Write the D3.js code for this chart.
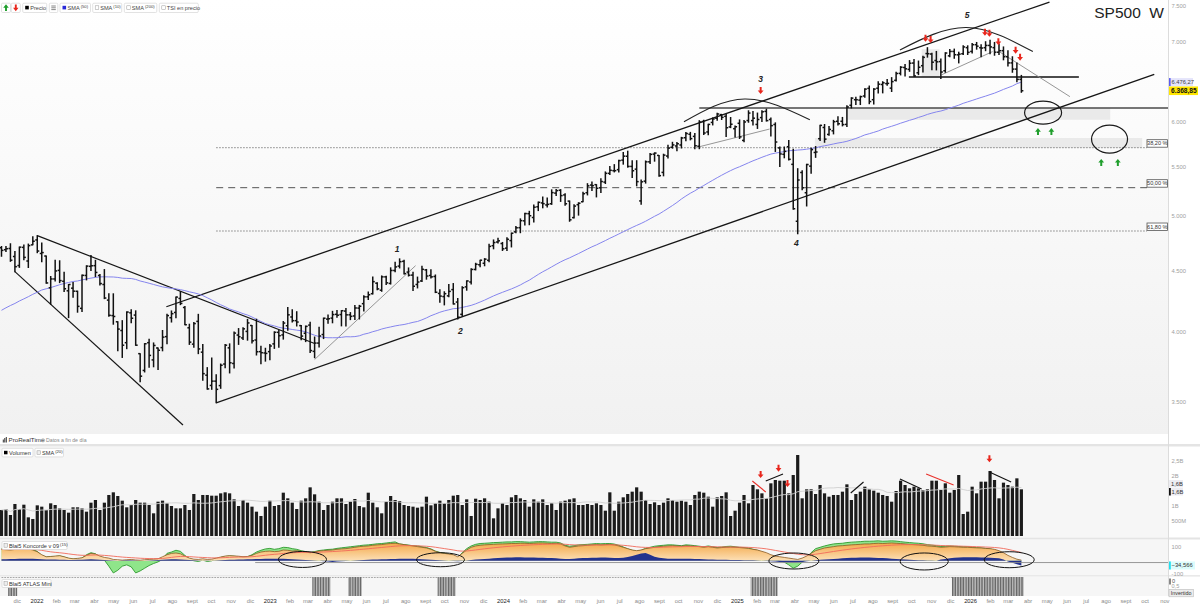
<!DOCTYPE html>
<html lang="es">
<head>
<meta charset="utf-8">
<title>SP500 W</title>
<script src="https://cdn.jsdelivr.net/npm/d3@7/dist/d3.min.js"></script>
<style>
html,body{margin:0;padding:0;background:#ffffff;overflow:hidden;}
svg{display:block;font-family:"Liberation Sans",Arial,Helvetica,sans-serif;}
</style>
</head>
<body>
<svg id="chart" width="1200" height="605"></svg>
<script>
// ================= DATA =================
const firstWeek = "2021-11-08";
const lastWeek = "2026-03-23";
// weekly [open, high, low, close]
const ohlc2021 = [
[4707,4718,4630,4683],[4689,4718,4672,4698],[4700,4743,4585,4595],[4628,4672,4495,4538],
[4548,4713,4532,4712],[4710,4731,4600,4620],[4588,4740,4531,4726],[4733,4808,4733,4766]];
const ohlc2022 = [
[4778,4818,4662,4677],[4655,4749,4582,4663],[4632,4632,4395,4398],[4357,4453,4222,4432],
[4432,4595,4414,4501],[4506,4590,4401,4418],[4412,4490,4327,4349],[4332,4385,4114,4385],
[4354,4402,4279,4329],[4328,4329,4157,4204],[4188,4466,4162,4463],[4462,4546,4424,4543],
[4541,4637,4505,4546],[4547,4594,4452,4488],[4462,4471,4381,4393],[4385,4513,4267,4272],
[4255,4308,4124,4132],[4130,4307,4062,4123],[4081,4081,3859,4024],[4013,4090,3810,3901],
[3920,4160,3875,4158],[4152,4177,4073,4109],[4134,4168,3900,3901],[3838,3838,3636,3675],
[3716,3913,3705,3912],[3920,3946,3738,3825],[3792,3918,3742,3899],[3880,3880,3722,3863],
[3883,4013,3859,3962],[3966,4140,3911,4130],[4113,4167,4079,4145],[4155,4280,4112,4280],
[4269,4325,4218,4228],[4195,4203,4057,4058],[4034,4062,3907,3924],[3909,4076,3886,4067],
[4084,4140,3838,3873],[3849,3907,3647,3693],[3682,3736,3584,3586],[3610,3806,3583,3640],
[3640,3685,3491,3583],[3609,3762,3590,3753],[3762,3906,3735,3901],[3881,3911,3698,3771],
[3766,4001,3733,3993],[3978,4028,3907,3965],[3956,4034,3944,4026],[4006,4100,3939,4072],
[4052,4052,3918,3934],[3940,4101,3828,3852],[3853,3894,3764,3845],[3843,3878,3783,3840]];
const ohlc2023 = [
[3853,3906,3794,3895],[3911,4003,3877,3999],[3999,4015,3885,3973],[3979,4083,3947,4071],
[4050,4195,4015,4136],[4119,4176,4079,4090],[4090,4161,4048,4079],[4051,4051,3943,3970],
[3992,4048,3928,4045],[4055,4078,3847,3861],[3855,3963,3808,3917],[3917,4039,3888,3971],
[3982,4110,3951,4109],[4102,4134,4069,4105],[4110,4164,4073,4138],[4140,4170,4116,4133],
[4138,4170,4049,4169],[4166,4187,4048,4136],[4136,4154,4098,4124],[4127,4212,4099,4191],
[4190,4212,4103,4205],[4226,4290,4167,4282],[4282,4322,4260,4299],[4308,4448,4306,4409],
[4396,4400,4341,4348],[4337,4458,4328,4450],[4450,4456,4385,4399],[4394,4528,4389,4505],
[4505,4578,4495,4536],[4543,4607,4527,4582],[4585,4594,4474,4478],[4491,4527,4457,4464],
[4465,4490,4335,4370],[4385,4448,4356,4406],[4415,4541,4411,4515],[4510,4514,4430,4457],
[4462,4511,4440,4450],[4453,4466,4317,4320],[4310,4341,4238,4288],[4284,4324,4216,4308],
[4290,4385,4283,4327],[4342,4393,4223,4224],[4239,4268,4103,4117],[4140,4366,4127,4358],
[4365,4416,4337,4415],[4406,4521,4390,4514],[4514,4568,4510,4559],[4555,4595,4537,4595],
[4568,4609,4546,4604],[4594,4738,4582,4719],[4725,4778,4697,4754],[4759,4793,4751,4770]];
const ohlc2024 = [
[4745,4755,4682,4697],[4703,4798,4682,4784],[4772,4842,4714,4840],[4853,4903,4845,4891],
[4892,4976,4845,4959],[4957,5030,4918,5027],[5026,5049,4920,5006],[4989,5111,4947,5089],
[5093,5140,5056,5137],[5131,5190,5083,5124],[5111,5179,5092,5117],[5123,5262,5117,5234],
[5229,5265,5204,5254],[5258,5264,5146,5204],[5211,5222,5107,5123],[5149,5150,4953,4967],
[4988,5114,4985,5100],[5114,5133,5012,5128],[5143,5239,5143,5223],[5233,5325,5211,5303],
[5311,5342,5256,5305],[5315,5315,5191,5278],[5283,5375,5234,5347],[5341,5447,5327,5432],
[5432,5505,5420,5464],[5460,5524,5447,5460],[5471,5570,5446,5567],[5572,5655,5529,5615],
[5614,5669,5497,5505],[5505,5566,5390,5459],[5476,5566,5303,5346],[5151,5364,5119,5344],
[5351,5563,5331,5554],[5554,5643,5536,5634],[5637,5651,5561,5648],[5623,5623,5403,5408],
[5442,5636,5406,5626],[5616,5733,5596,5703],[5712,5767,5702,5738],[5726,5765,5675,5751],
[5737,5822,5704,5815],[5818,5878,5784,5865],[5857,5878,5794,5808],[5833,5866,5696,5729],
[5723,6012,5696,5996],[6003,6018,5853,5871],[5883,5972,5850,5969],[5992,6044,5963,6032],
[6040,6099,6016,6090],[6083,6085,6026,6051],[6063,6085,5832,5931],[5940,6049,5932,5971],
[5920,5950,5825,5942]];
const ohlc2025 = [
[5982,6021,5809,5827],[5788,6014,5773,5997],[6014,6128,5994,6101],[6013,6120,5962,6041],
[5969,6101,5923,6026],[6048,6128,6003,6115],[6121,6147,6008,6013],[6026,6043,5837,5955],
[5968,5987,5666,5770],[5705,5714,5505,5639],[5635,5715,5597,5667],[5718,5786,5573,5581],
[5527,5691,5069,5074],[4953,5481,4835,5363],[5441,5459,5262,5283],[5233,5528,5101,5525],
[5508,5700,5434,5686],[5655,5720,5602,5660],[5807,5959,5786,5958],[5934,5968,5767,5802],
[5855,5944,5845,5912],[5896,6016,5861,6000],[6005,6059,5963,5977],[6005,6050,5952,5967],
[5969,6187,5944,6173],[6193,6284,6161,6279],[6260,6290,6201,6260],[6255,6303,6202,6297],
[6305,6395,6289,6389],[6398,6427,6212,6238],[6260,6395,6208,6389],[6400,6481,6340,6450],
[6446,6481,6343,6467],[6457,6508,6437,6460],[6401,6532,6360,6482],[6498,6600,6489,6584],
[6586,6672,6566,6664],[6661,6699,6551,6644],[6637,6750,6612,6716],[6718,6764,6550,6553],
[6593,6744,6570,6664],[6684,6808,6602,6792],[6842,6920,6795,6840],[6836,6845,6631,6729],
[6751,6870,6630,6734],[6737,6771,6521,6603],[6619,6853,6600,6849],[6812,6895,6800,6870],
[6870,6901,6780,6827],[6825,6860,6720,6834],[6840,6945,6830,6930],[6920,6945,6830,6858]];
const ohlc2026 = [
[6870,6975,6850,6960],[6960,6990,6900,6940],[6920,6960,6800,6915],[6920,7000,6880,6950],
[6950,7020,6840,6930],[6920,6990,6820,6860],[6860,6970,6830,6880],[6880,6930,6760,6800],
[6800,6880,6680,6720],[6720,6800,6600,6640],[6640,6720,6480,6510],[6510,6560,6350,6368.85]];
// weekly closes before the first drawn bar (for the SMA 50)
const preCloses = [3699,3663,3709,3703,3756,3825,3768,3841,3714,3887,3934,3907,3811,3842,3943,3913,3975,4020,
4129,4185,4180,4181,4233,4174,4156,4204,4230,4247,4166,4281,4352,4370,4327,4412,4395,4437,4468,4442,4509,4535,
4459,4433,4455,4357,4391,4471,4545,4605,4697];
const smaPeriod = 50;
const smaLastValue = 6476.27;

// weekly volume (millions)
const volumeA = [867,889,700,1067,900,1044,622,567,1022,978,867,1089,1033,922,867,778,956,956,922,811,
1111,1200,867,1111,1367,1456,1333,1178,956,1033,1200,1111,1111,1033,756,1144,1178,1089,1000,922,
922,1033,867,1400,1200,1367,1367,1344,1344,1422,1456,1422,1222,1000,1200,1111,978,811,667,978,
1178,1000,1033,1444,1256,1111,900,1178,1256,1622,1389,1144,867,1033,1144,1256,1256,1067,1144,1233,
1000,956,1444,1111,956,756,1144,1333,1200];
const volumeB = [1167,1033,1000,978,944,978,1311,1022,1089,1178,1089,1200,1344,1367,1033,1222,667,1244,1200,1256,
1144,589,922,1089,1033,1289,1367,1256,1200,978,1222,1144,1222,1033,1089,867,1144,1178,1222,1256,
1033,1033,1067,1033,1089,1033,844,1456,844,1144,1289,1400,1478,1622,1478,1200,1067,1122,1033,1111,
1256,1200,1144,1178,1144,1033,1367,1478,1444,1311,978,1289,1333,1456,667,844,1111,1367,1089,1700,
1556,1422,1256,1756,1867,1844,1844,1422,2033,2700,1256,1556,1556,1400,1700,1422,1311,1367,1367,1478,
1722,1200,1400,1478,1644,1556,1511,1444,1367,1333,1144,1500,1844,1700,1589,1644,1589,1533,1556,1844,
1844,1533,1756,1444,1533,2033,733,811,1644,1422,1811,1811,2167,1867,1256,1778,1700,1644,1922,1556];
const volSmaPeriod = 20;
const volTicks = [500,1000,2000,2500];
const volTickLabels = ["500M","1B","2B","2,5B"];

// Koncorde components, one value per week
const koncordeMarron = [85,82,80,84,86,85,88,80,67,45,30,32,35,38,30,20,15,18,22,40,55,50,35,25,20,
10,8,5,8,10,6,4,8,10,12,15,30,45,55,58,52,35,20,12,10,15,10,12,20,28,35,38,36,34,30,32,
40,55,65,70,72,68,70,80,78,72,75,70,65,60,65,72,75,78,
80,85,88,90,95,100,105,108,110,115,118,120,125,128,130,125,120,115,110,105,100,95,
85,70,60,55,50,45,30,55,80,100,110,
115,118,120,122,124,125,126,128,128,130,130,128,130,132,132,130,128,130,125,110,
100,105,110,112,115,118,120,118,120,122,118,110,100,90,80,75,80,90,95,
100,105,108,110,112,110,108,112,110,108,105,100,105,100,95,98,100,102,100,98,95,92,85,80,70,60,
45,35,30,25,20,15,10,20,35,55,75,85,95,100,105,110,112,
115,118,120,122,125,125,128,130,128,130,132,130,128,125,122,120,118,115,110,108,105,
100,102,105,104,102,100,100,98,96,95,92,90,85,75,60,40,25,12,5];
const koncordeVerde = [90,88,86,88,92,90,92,82,70,40,28,30,32,36,28,18,12,15,20,45,60,52,30,
5,-40,-90,-70,-40,-30,-45,-90,-75,-55,-35,-20,-8,10,55,65,78,70,40,15,0,-5,5,-5,0,
15,25,32,36,34,30,28,30,45,65,78,88,92,85,90,100,98,90,85,75,68,62,68,76,80,84,
86,92,96,100,104,108,112,116,118,122,126,128,132,136,140,125,120,116,112,110,104,98,
88,72,62,56,48,40,20,60,90,110,122,
128,130,132,135,136,138,140,140,142,142,140,138,140,142,142,140,138,138,132,115,
108,112,118,120,122,125,128,126,128,128,124,115,102,88,78,70,78,92,100,
108,112,115,118,118,115,112,118,116,112,108,104,110,104,98,102,106,108,104,100,98,94,85,78,62,45,
25,10,0,-10,-30,-55,-40,-10,20,60,90,100,110,118,125,128,130,
135,138,140,142,145,145,146,148,145,146,148,146,142,138,135,132,130,126,120,116,112,
106,108,110,108,106,104,104,100,98,96,92,88,80,68,52,30,15,5,-2];
const koncordeAzul = [12,12,14,14,15,15,16,16,14,12,10,10,10,8,8,6,6,8,8,10,12,10,8,
6,4,2,0,2,4,4,2,0,0,2,4,6,8,10,12,12,10,8,6,4,2,0,-2,0,
2,4,6,8,8,10,10,12,12,14,14,15,15,16,16,15,14,12,10,8,6,4,2,0,-4,-6,-8,-6,-4,-2,0,2,4,6,8,10,10,12,12,14,14,
15,16,16,15,14,12,10,8,6,4,2,0,-2,-4,-2,2,6,10,
12,14,16,18,20,22,24,25,26,26,25,24,24,22,22,20,20,18,16,14,14,16,18,20,20,22,22,24,24,22,20,20,22,28,35,45,
55,58,45,
30,22,18,16,15,15,16,16,15,14,14,12,10,10,8,8,8,6,6,6,5,4,4,2,0,-2,
-4,-6,-8,-10,-12,-14,-12,-8,-4,0,4,
8,10,12,14,16,18,20,22,22,24,24,24,22,20,20,18,16,14,12,10,8,6,4,4,2,2,0,
10,14,18,22,24,26,26,26,26,24,24,22,20,18,10,-5,-15,-25,-34.566];
const koncordePeriod = 15;

// ATLAS Mini signal weeks [from, to, level]
const atlasRanges = [["2021-11-22","2021-11-29",0.5],["2023-03-13","2023-04-03",1],["2023-05-08","2023-05-22",1],
["2023-09-25","2023-10-16",1],["2025-01-27","2025-03-03",1],["2025-12-08","2026-03-23",1]];

// axis labels
const priceTicks = [3500,4000,4500,5000,5500,6000,7000,7500];
const monthNames = ["ene","feb","mar","abr","may","jun","jul","ago","sept","oct","nov","dic"];

// drawn analysis (date, price)
const channelLines = [[["2022-07-24",4201],["2026-05-06",7556]],[["2022-10-10",3491],["2026-10-17",6574]]];
const wedgeLines = [[["2022-01-03",4818],["2023-03-13",3914]],[["2021-11-29",4495],["2022-08-19",3345]]];
const thinLines = [[["2023-03-13",3795],["2023-08-18",4547]],[["2024-11-02",5714],["2025-02-22",5916]],
[["2025-11-18",6567],["2026-02-06",6868]],[["2026-02-17",6864],["2026-06-07",6297]]];
const levelLines = [{from:"2024-11-04",to:"2026-11-08",price:6160,color:"#4a4a4a",w:1.4},
{from:"2025-09-28",to:"2026-06-21",price:6540,color:"#111",w:1.3}];
const arcs = [[["2024-10-11",5999],["2025-01-14",6269],["2025-04-26",6023]],
[["2025-09-14",6890],["2025-12-27",7194],["2026-04-10",6868]]];
const zones = [{from:"2025-06-23",to:"2026-08-09",lo:6023,hi:6160},{from:"2025-05-04",to:"2026-09-28",lo:5704,hi:5814},
{from:"2025-10-18",to:"2025-11-15",lo:6540,hi:6900}];
const fibLow = 3491, fibHigh = 7077, fibStart = "2022-10-10";
const fibLevels = [0.382,0.5,0.618];
const fibLabels = ["38,20 %","50,00 %","61,80 %"];
const priceEllipses = [{d:"2026-04-26",p:6105,rx:18.5,ry:11.5},{d:"2026-08-08",p:5803,rx:18,ry:14}];
const upArrows = [["2026-04-18",5927],["2026-05-09",5927],["2026-07-26",5584],["2026-08-21",5584]];
const downArrows = [["2025-02-08",6328],["2025-10-24",6999],["2025-11-01",6981],["2026-01-25",7080],
["2026-02-01",7066],["2026-02-15",6954],["2026-03-14",6841],["2026-03-21",6749]];
const waveLabels = [["1","2023-07-20",4695],["2","2023-10-27",4009],["3","2025-02-08",6514],["4","2025-04-05",4750],["5","2025-12-28",7366]];
const volLines = [{a:["2025-01-26",1833],b:["2025-02-16",1467],c:"#e8302a"},{a:["2025-02-16",1833],b:["2025-03-15",2067],c:"#111"},
{a:["2025-06-29",1433],b:["2025-07-19",1800],c:"#111"},{a:["2025-09-14",1900],b:["2025-10-18",1567],c:"#111"},
{a:["2025-10-25",2067],b:["2025-12-07",1700],c:"#e8302a"},{a:["2026-02-01",2133],b:["2026-03-07",1800],c:"#111"}];
const volArrows = [["2025-02-08",1933],["2025-03-08",2143],["2025-03-22",1633],["2026-02-01",2456]];
const koncordeEllipses = [{d:"2023-02-22",v:10,rx:24,ry:8},{d:"2023-09-26",v:8,rx:24,ry:7},{d:"2025-04-01",v:-1.5,rx:25,ry:8},
{d:"2025-10-22",v:-5,rx:24,ry:8.5},{d:"2026-03-04",v:8,rx:25,ry:8}];

// ================= SETUP =================
const svg = d3.select("#chart");
const plotR = 1168;
const P = {top:0, bottom:434}, V = {top:447, bottom:537}, K = {top:540, bottom:575}, A = {top:577, bottom:596};
const parse = d3.timeParse("%Y-%m-%d");
const weeks = d3.timeMonday.range(parse(firstWeek), d3.timeDay.offset(parse(lastWeek), 1));
const ohlc = [].concat(ohlc2021, ohlc2022, ohlc2023, ohlc2024, ohlc2025, ohlc2026);
const volumes = volumeA.concat(volumeB);
const n = Math.min(weeks.length, ohlc.length);
const bars = d3.range(n).map(i => ({d:weeks[i], o:ohlc[i][0], h:ohlc[i][1], l:ohlc[i][2], c:ohlc[i][3],
  vol: volumes[i] || 0, km: koncordeMarron[i] ?? 0, kv: koncordeVerde[i] ?? 0, ka: koncordeAzul[i] ?? 0}));

const x = d3.scaleTime().domain([parse("2022-01-01"), parse("2026-01-01")]).range([36, 969.6]);
const y = d3.scaleLog().domain([3500, 7500]).range([401.5, 5.9]);
const vY = d3.scaleLinear().domain([0, 2500]).range([536, 461]);
const kY = d3.scaleLinear().domain([-100, 100]).range([574.3, 547.3]);
const loc = d3.formatLocale({decimal:",", thousands:".", grouping:[3], currency:["","€"]});
const fmt0 = loc.format(",.0f"), fmt2 = loc.format(",.2f"), fmt3 = loc.format(",.3f");
const px = p => [x(parse(p[0])), y(p[1])];

// SMA 50
const allCloses = preCloses.concat(bars.map(b => b.c));
bars.forEach((b, i) => { const j = i + preCloses.length; b.sma = d3.mean(allCloses.slice(Math.max(0, j - smaPeriod + 1), j + 1)); });
// Volume SMA 20
bars.forEach((b, i) => { b.vsma = d3.mean(bars.slice(Math.max(0, i - volSmaPeriod + 1), i + 1), d => d.vol); });
// Koncorde media (EMA of marron)
{ const a = 2 / (koncordePeriod + 1); let e = bars[0].km; bars.forEach(b => { e = a * b.km + (1 - a) * e; b.kmed = e; }); }

// ================= DEFS =================
const defs = svg.append("defs");
const gp = defs.append("linearGradient").attr("id","bgPrice").attr("x1",0).attr("y1",0).attr("x2",0).attr("y2",1);
gp.append("stop").attr("offset","0%").attr("stop-color","#ffffff");
gp.append("stop").attr("offset","100%").attr("stop-color","#f1f1f1");
const go = defs.append("linearGradient").attr("id","gOrange").attr("gradientUnits","userSpaceOnUse")
  .attr("x1",0).attr("y1",541).attr("x2",0).attr("y2",562);
go.append("stop").attr("offset","0%").attr("stop-color","#f2a23c");
go.append("stop").attr("offset","100%").attr("stop-color","#fde4bf");
const pat = defs.append("pattern").attr("id","stripes").attr("width",1.6).attr("height",4).attr("patternUnits","userSpaceOnUse");
pat.append("rect").attr("width",1.6).attr("height",4).attr("fill","#cfcfcf");
pat.append("rect").attr("width",0.9).attr("height",4).attr("fill","#5e5e5e");
[["clipP",P],["clipV",V],["clipK",K],["clipA",A]].forEach(([id, r]) =>
  defs.append("clipPath").attr("id",id).append("rect").attr("x",0).attr("y",r.top).attr("width",plotR).attr("height",r.bottom - r.top));

// ================= BACKGROUNDS =================
svg.append("rect").attr("width",1200).attr("height",605).attr("fill","#ffffff");
svg.append("rect").attr("x",0).attr("y",P.top).attr("width",plotR).attr("height",P.bottom - P.top).attr("fill","url(#bgPrice)");
[V, K, A].forEach(r => svg.append("rect").attr("x",0).attr("y",r.top).attr("width",plotR).attr("height",r.bottom - r.top).attr("fill","#f6f6f6"));
svg.append("rect").attr("x",0).attr("y",444).attr("width",1200).attr("height",2.5).attr("fill","#e4e4e4");
svg.append("rect").attr("x",0).attr("y",537.5).attr("width",1200).attr("height",2).attr("fill","#e4e4e4");
svg.append("rect").attr("x",0).attr("y",575.2).attr("width",1200).attr("height",1.3).attr("fill","#e4e4e4");
svg.append("line").attr("x1",plotR+0.5).attr("x2",plotR+0.5).attr("y1",0).attr("y2",596).attr("stroke","#dcdcdc");

// ================= PRICE PANEL =================
const pg = svg.append("g").attr("clip-path","url(#clipP)");
pg.selectAll("rect.zone").data(zones).join("rect").attr("class","zone")
  .attr("x", d => x(parse(d.from))).attr("width", d => x(parse(d.to)) - x(parse(d.from)))
  .attr("y", d => y(d.hi)).attr("height", d => y(d.lo) - y(d.hi)).attr("fill","#e6e6e6").attr("opacity",0.85);

const fibPrices = fibLevels.map(f => fibHigh - f * (fibHigh - fibLow));
pg.selectAll("line.fib").data(fibPrices).join("line").attr("class","fib")
  .attr("x1", x(parse(fibStart))).attr("x2", 1147).attr("y1", d => y(d)).attr("y2", d => y(d))
  .attr("stroke", (d,i) => i === 1 ? "#555" : "#777").attr("stroke-width", (d,i) => i === 1 ? 1 : 0.9)
  .attr("stroke-dasharray", (d,i) => i === 1 ? "7,5" : "1.5,1.5");

pg.selectAll("line.level").data(levelLines).join("line").attr("class","level")
  .attr("x1", d => x(parse(d.from))).attr("x2", d => x(parse(d.to))).attr("y1", d => y(d.price)).attr("y2", d => y(d.price))
  .attr("stroke", d => d.color).attr("stroke-width", d => d.w);

const segLine = (g, data, stroke, w) => g.selectAll(null).data(data).join("line")
  .attr("x1", d => px(d[0])[0]).attr("y1", d => px(d[0])[1]).attr("x2", d => px(d[1])[0]).attr("y2", d => px(d[1])[1])
  .attr("stroke", stroke).attr("stroke-width", w);
segLine(pg, channelLines, "#161616", 1.3);
segLine(pg, wedgeLines, "#161616", 1.2);
segLine(pg, thinLines, "#8a8a8a", 0.9);

const arcLine = d3.line().curve(d3.curveNatural).x(p => px(p)[0]).y(p => px(p)[1]);
pg.selectAll("path.arc").data(arcs).join("path").attr("class","arc").attr("d", arcLine)
  .attr("fill","none").attr("stroke","#222").attr("stroke-width",1.1);

pg.append("path").datum(bars).attr("fill","none").attr("stroke","#8585ee").attr("stroke-width",1)
  .attr("d", d3.line().x(b => x(b.d)).y(b => y(b.sma)));

const bg = pg.append("g").attr("stroke","#111").attr("stroke-width",1.5);
bg.selectAll("line.hl").data(bars).join("line").attr("class","hl")
  .attr("x1", b => x(b.d)).attr("x2", b => x(b.d)).attr("y1", b => y(b.h) - 0.5).attr("y2", b => y(b.l) + 0.5);
bg.selectAll("line.op").data(bars).join("line").attr("class","op")
  .attr("x1", b => x(b.d) - 2).attr("x2", b => x(b.d)).attr("y1", b => y(b.o)).attr("y2", b => y(b.o));
bg.selectAll("line.cl").data(bars).join("line").attr("class","cl")
  .attr("x1", b => x(b.d)).attr("x2", b => x(b.d) + 2).attr("y1", b => y(b.c)).attr("y2", b => y(b.c));

pg.selectAll("ellipse.pe").data(priceEllipses).join("ellipse").attr("class","pe")
  .attr("cx", d => x(parse(d.d))).attr("cy", d => y(d.p)).attr("rx", d => d.rx).attr("ry", d => d.ry)
  .attr("fill","none").attr("stroke","#1a1a1a").attr("stroke-width",1.2);

const downPath = "M-1,-7 L1,-7 L1,-3.6 L2.9,-3.6 L0,0 L-2.9,-3.6 L-1,-3.6 Z";
const upPath = "M-1,7 L1,7 L1,3.6 L2.9,3.6 L0,0 L-2.9,3.6 L-1,3.6 Z";
pg.selectAll("path.da").data(downArrows).join("path").attr("class","da").attr("d", downPath)
  .attr("transform", d => `translate(${px(d)[0]},${px(d)[1]})`).attr("fill","#e8261c");
pg.selectAll("path.ua").data(upArrows).join("path").attr("class","ua").attr("d", upPath)
  .attr("transform", d => `translate(${px(d)[0]},${px(d)[1]})`).attr("fill","#1f9e2c");

pg.selectAll("text.wave").data(waveLabels).join("text").attr("class","wave")
  .attr("x", d => x(parse(d[1]))).attr("y", d => y(d[2]) + 3).attr("text-anchor","middle")
  .attr("font-size",8.5).attr("font-style","italic").attr("font-weight","bold").attr("fill","#222").text(d => d[0]);

// fib label boxes
const fl = svg.append("g");
fibPrices.forEach((p, i) => {
  const yy = y(p);
  fl.append("rect").attr("x",1147).attr("y",yy - 8).attr("width",20.5).attr("height",7.5).attr("fill","#fff").attr("stroke","#555").attr("stroke-width",0.8);
  fl.append("text").attr("x",1157.3).attr("y",yy - 2.3).attr("text-anchor","middle").attr("font-size",5.6).attr("fill","#333").text(fibLabels[i]);
});

// price axis
svg.selectAll("text.pt").data(priceTicks).join("text").attr("class","pt")
  .attr("x",1171.5).attr("y", d => y(d) + 2).attr("font-size",5.8).attr("fill","#a0a0a0").text(d => fmt0(d));
// price tags
{
  const ys = y(smaLastValue);
  svg.append("rect").attr("x",1169).attr("y",ys - 4).attr("width",24).attr("height",8).attr("fill","#e4e4fb");
  svg.append("rect").attr("x",1169).attr("y",ys - 4).attr("width",1.6).attr("height",8).attr("fill","#5b5bf0");
  svg.append("text").attr("x",1171.5).attr("y",ys + 2).attr("font-size",5.8).attr("fill","#444").text(fmt2(smaLastValue));
  const last = bars[bars.length - 1].c, yc = y(last);
  svg.append("rect").attr("x",1169).attr("y",yc - 4.3).attr("width",29).attr("height",8.6).attr("fill","#ffe600");
  svg.append("text").attr("x",1171).attr("y",yc + 2.3).attr("font-size",6.6).attr("font-weight","bold").attr("fill","#111").text(fmt2(last));
}
svg.append("text").attr("x",1164).attr("y",18).attr("text-anchor","end").attr("font-size",15.5).attr("fill","#222")
  .attr("xml:space","preserve").style("white-space","pre").text("SP500  W");

// top legend
{
  const lg = svg.append("g");
  const box = (x0, w) => lg.append("rect").attr("x",x0).attr("y",3.2).attr("width",w).attr("height",9.3).attr("rx",1.2)
    .attr("fill","#fff").attr("stroke","#d6d6d6").attr("stroke-width",0.7);
  box(1.5, 9); box(11.3, 9);
  lg.append("path").attr("d",upPath).attr("transform","translate(6,4.3) scale(0.95)").attr("fill","#1f9e2c");
  lg.append("path").attr("d",downPath).attr("transform","translate(15.8,11.2) scale(0.95)").attr("fill","#e8261c");
  const items = [{x:22.7,w:24,sw:"#000",t:"Precio",s:""},{x:60,w:30.5,sw:"#2a2ad8",t:"SMA",s:"(50)"},
    {x:92.7,w:29,sw:null,t:"SMA",s:"(10)"},{x:124.3,w:32.5,sw:null,t:"SMA",s:"(200)"},{x:159.3,w:39,sw:null,t:"TSI en precio",s:""}];
  items.forEach(it => {
    box(it.x, it.w);
    if (it.sw) lg.append("rect").attr("x",it.x + 2.5).attr("y",5.8).attr("width",3.6).attr("height",3.6).attr("fill",it.sw);
    else lg.append("rect").attr("x",it.x + 2.5).attr("y",5.8).attr("width",3.6).attr("height",3.6).attr("fill","#fff").attr("stroke","#999").attr("stroke-width",0.5);
    const t = lg.append("text").attr("x",it.x + 7.5).attr("y",10).attr("font-size",5.6).attr("fill","#444").text(it.t);
    if (it.s) t.append("tspan").attr("dx",1).attr("dy",-1.8).attr("font-size",4.2).text(it.s);
  });
  box(49.3, 8.5);
  [6,7.8,9.6].forEach(yy => lg.append("line").attr("x1",51.3).attr("x2",55.8).attr("y1",yy).attr("y2",yy).attr("stroke","#555").attr("stroke-width",0.7));
}

// ================= PRORELTIME HEADER =================
{
  const h = svg.append("g");
  [[2.8,439.5,1,3],[4.3,438,1,4.5],[5.8,437,1,5.5]].forEach(r => h.append("rect").attr("x",r[0]).attr("y",r[1]).attr("width",r[2]).attr("height",r[3]).attr("fill","#333"));
  h.append("text").attr("x",8.5).attr("y",442.3).attr("font-size",6.2).attr("fill","#333").text("ProRealTime");
  h.append("circle").attr("cx",43).attr("cy",440.3).attr("r",1.7).attr("fill","none").attr("stroke","#999").attr("stroke-width",0.5);
  h.append("text").attr("x",46).attr("y",442.3).attr("font-size",5.2).attr("fill","#888").text("Datos a fin de día");
}

// ================= VOLUME PANEL =================
const vg = svg.append("g").attr("clip-path","url(#clipV)");
vg.selectAll("rect.vb").data(bars).join("rect").attr("class","vb")
  .attr("x", b => x(b.d) - 1.6).attr("width",3.2).attr("y", b => vY(b.vol)).attr("height", b => vY(0) - vY(b.vol)).attr("fill","#1b1b1b");
vg.append("path").datum(bars).attr("fill","none").attr("stroke","#cfcfcf").attr("stroke-width",0.9)
  .attr("d", d3.line().x(b => x(b.d)).y(b => vY(b.vsma)));
vg.selectAll("line.vl").data(volLines).join("line").attr("class","vl")
  .attr("x1", d => x(parse(d.a[0]))).attr("y1", d => vY(d.a[1])).attr("x2", d => x(parse(d.b[0]))).attr("y2", d => vY(d.b[1]))
  .attr("stroke", d => d.c).attr("stroke-width",1.1);
vg.selectAll("path.va").data(volArrows).join("path").attr("class","va").attr("d", downPath)
  .attr("transform", d => `translate(${x(parse(d[0]))},${vY(d[1])})`).attr("fill","#e8261c");
{
  const lg = svg.append("g");
  lg.append("rect").attr("x",2).attr("y",448.3).attr("width",31).attr("height",8.6).attr("rx",1).attr("fill","#fff").attr("stroke","#d6d6d6").attr("stroke-width",0.7);
  lg.append("rect").attr("x",4).attr("y",450.8).attr("width",3.5).attr("height",3.5).attr("fill","#000");
  lg.append("text").attr("x",9).attr("y",455).attr("font-size",5.6).attr("fill","#333").text("Volumen");
  lg.append("rect").attr("x",35).attr("y",448.3).attr("width",28.5).attr("height",8.6).attr("rx",1).attr("fill","#fff").attr("stroke","#d6d6d6").attr("stroke-width",0.7);
  lg.append("rect").attr("x",37).attr("y",450.8).attr("width",3.5).attr("height",3.5).attr("fill","#eee").attr("stroke","#999").attr("stroke-width",0.5);
  lg.append("text").attr("x",42).attr("y",455).attr("font-size",5.6).attr("fill","#333").text("SMA").append("tspan").attr("dx",1).attr("dy",-1.8).attr("font-size",4.2).text("(20)");
}
svg.selectAll("text.vt").data(volTicks).join("text").attr("class","vt")
  .attr("x",1171.5).attr("y", d => vY(d) + 2).attr("font-size",5.8).attr("fill","#a0a0a0").text((d,i) => volTickLabels[i]);
{
  const lastV = bars[bars.length - 1];
  const lab = v => (loc.format(".1f")(v / 1000)) + "B";
  svg.append("rect").attr("x",1169).attr("y",480).attr("width",14).attr("height",7.5).attr("fill","#ececf2");
  svg.append("text").attr("x",1171).attr("y",485.8).attr("font-size",5.8).attr("fill","#333").text(lab(lastV.vsma));
  svg.append("rect").attr("x",1169).attr("y",488).attr("width",14).attr("height",7.5).attr("fill","#ececf2");
  svg.append("rect").attr("x",1169).attr("y",488).attr("width",1.8).attr("height",7.5).attr("fill","#111");
  svg.append("text").attr("x",1171.5).attr("y",493.8).attr("font-size",5.8).attr("fill","#333").text(lab(lastV.vol));
}

// ================= KONCORDE PANEL =================
const kg = svg.append("g").attr("clip-path","url(#clipK)");
const kArea = f => d3.area().x(b => x(b.d)).y0(kY(0)).y1(b => kY(f(b)));
const kLine = f => d3.line().x(b => x(b.d)).y(b => kY(f(b)));
kg.append("path").datum(bars).attr("d", kArea(b => b.kv)).attr("fill","#8fe58a");
kg.append("path").datum(bars).attr("d", kLine(b => b.kv)).attr("fill","none").attr("stroke","#2f9a2f").attr("stroke-width",0.9);
kg.append("path").datum(bars).attr("d", kArea(b => b.km)).attr("fill","url(#gOrange)");
kg.append("path").datum(bars).attr("d", kLine(b => b.km)).attr("fill","none").attr("stroke","#8a5a24").attr("stroke-width",0.8);
kg.append("path").datum(bars).attr("d", kArea(b => b.ka)).attr("fill","#23338e");
kg.append("path").datum(bars).attr("d", kLine(b => b.kmed)).attr("fill","none").attr("stroke","#f26a5a").attr("stroke-width",0.9);
kg.append("line").attr("x1", x(parse("2022-12-10"))).attr("x2", plotR).attr("y1", kY(-13)).attr("y2", kY(-13)).attr("stroke","#8c8c8c").attr("stroke-width",0.9);
kg.selectAll("ellipse.ke").data(koncordeEllipses).join("ellipse").attr("class","ke")
  .attr("cx", d => x(parse(d.d))).attr("cy", d => kY(d.v)).attr("rx", d => d.rx).attr("ry", d => d.ry)
  .attr("fill","none").attr("stroke","#111").attr("stroke-width",1);
{
  const lg = svg.append("g");
  lg.append("rect").attr("x",2).attr("y",541.5).attr("width",65).attr("height",8).attr("rx",1).attr("fill","#fff").attr("stroke","#d6d6d6").attr("stroke-width",0.7);
  lg.append("rect").attr("x",4).attr("y",543.7).attr("width",3.5).attr("height",3.5).attr("fill","#eee").attr("stroke","#999").attr("stroke-width",0.5);
  lg.append("text").attr("x",9).attr("y",547.8).attr("font-size",5.6).attr("fill","#333").text("Blai5 Koncorde v 09").append("tspan").attr("dx",1).attr("dy",-1.8).attr("font-size",4.2).text("(15)");
  svg.append("text").attr("x",1171.5).attr("y",kY(100) + 2).attr("font-size",5.8).attr("fill","#a0a0a0").text("100");
  svg.append("text").attr("x",1171.5).attr("y",kY(-100) + 2).attr("font-size",5.8).attr("fill","#a0a0a0").text("-100");
  const lastA = bars[bars.length - 1].ka, ya = kY(lastA);
  svg.append("rect").attr("x",1169).attr("y",ya - 4).attr("width",26).attr("height",8).attr("fill","#dcfcfc");
  svg.append("rect").attr("x",1169).attr("y",ya - 4).attr("width",1.8).attr("height",8).attr("fill","#22e0f0");
  svg.append("text").attr("x",1171.5).attr("y",ya + 2).attr("font-size",5.8).attr("fill","#333").text(fmt3(lastA));
}

// ================= ATLAS PANEL =================
const ag = svg.append("g").attr("clip-path","url(#clipA)");
ag.append("line").attr("x1", x(bars[0].d)).attr("x2", x(bars[bars.length - 1].d)).attr("y1",577.3).attr("y2",577.3)
  .attr("stroke","#a8a8a8").attr("stroke-width",1.2).attr("stroke-dasharray","1.8,1");
const atlasBars = [];
bars.forEach(b => atlasRanges.forEach(r => { if (b.d >= parse(r[0]) && b.d <= parse(r[1])) atlasBars.push({d:b.d, lv:r[2]}); }));
const aY = d3.scaleLinear().domain([0, 1]).range([596, 577]);
ag.selectAll("rect.ab").data(atlasBars).join("rect").attr("class","ab")
  .attr("x", d => x(d.d) - 2.3).attr("width",4.6).attr("y", d => aY(d.lv)).attr("height", d => aY(0) - aY(d.lv)).attr("fill","url(#stripes)");
{
  const lg = svg.append("g");
  lg.append("rect").attr("x",2).attr("y",579.5).attr("width",49).attr("height",8).attr("rx",1).attr("fill","#fff").attr("stroke","#d6d6d6").attr("stroke-width",0.7);
  lg.append("rect").attr("x",4).attr("y",581.7).attr("width",3.5).attr("height",3.5).attr("fill","#eee").attr("stroke","#999").attr("stroke-width",0.5);
  lg.append("text").attr("x",9).attr("y",585.8).attr("font-size",5.6).attr("fill","#333").text("Blai5 ATLAS Mini");
  svg.append("rect").attr("x",1169).attr("y",578.5).attr("width",2).attr("height",6).attr("fill","#888");
  svg.append("text").attr("x",1172).attr("y",582.8).attr("font-size",5.6).attr("fill","#555").text("0");
  svg.append("text").attr("x",1171.5).attr("y",587.8).attr("font-size",5.6).attr("fill","#a0a0a0").text("0,5");
  svg.append("rect").attr("x",1169).attr("y",589.3).attr("width",24.5).attr("height",7.5).attr("fill","#ececec").attr("stroke","#bdbdbd").attr("stroke-width",0.6);
  svg.append("text").attr("x",1181.2).attr("y",594.9).attr("text-anchor","middle").attr("font-size",5.4).attr("fill","#333").text("Invertido");
}

// ================= X AXIS =================
const months = d3.timeMonth.range(parse("2021-12-01"), parse("2026-11-02"));
svg.selectAll("text.mx").data(months).join("text").attr("class","mx")
  .attr("x", d => x(d) + 1).attr("y", 602.5).attr("text-anchor","middle").attr("font-size",5.8)
  .attr("fill", d => d.getMonth() === 0 ? "#222" : "#8a8a8a")
  .text(d => d.getMonth() === 0 ? String(d.getFullYear()) : monthNames[d.getMonth()]);
</script>
</body>
</html>
